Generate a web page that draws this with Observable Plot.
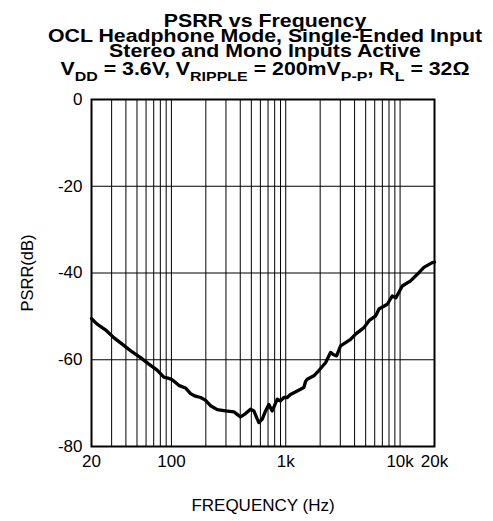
<!DOCTYPE html>
<html>
<head>
<meta charset="utf-8">
<script src="https://cdn.jsdelivr.net/npm/d3@7"></script>
<script src="https://cdn.jsdelivr.net/npm/@observablehq/plot@0.6"></script>
<style>
  html, body { margin: 0; padding: 0; background: #fff; }
  #chart svg { display: block; }
</style>
</head>
<body>
<div id="chart"></div>
<script>
// Data
const freq = [20, 22.4, 26.5, 31.3, 37.1, 45.4, 53.7, 63.5, 75, 85.8, 95, 101.6, 116, 132.8, 147, 162, 180, 198, 220, 252, 297, 352, 376, 402, 445, 492, 526, 560, 582, 623, 666, 711, 740, 762, 843, 900, 963, 1030, 1100, 1261, 1440, 1490, 1542, 1760, 1930, 2229, 2466, 2600, 2783, 3017, 3690, 4083, 4830, 5345, 6112, 6537, 7730, 8537, 9200, 10450, 12360, 14140, 16150, 19100, 20000];
const psrr = [-50.5, -51.8, -53.1, -54.9, -56.4, -58.2, -59.5, -61.0, -62.4, -64.0, -64.3, -64.6, -65.9, -66.5, -67.8, -68.4, -68.7, -69.3, -70.6, -71.5, -71.8, -72.0, -72.6, -73.2, -72.4, -71.4, -71.8, -73.5, -74.5, -73.7, -71.8, -70.3, -71.2, -71.8, -69.1, -69.5, -68.7, -68.7, -68.0, -67.2, -66.4, -65.0, -64.5, -63.7, -62.6, -60.7, -58.3, -58.8, -59.1, -56.8, -55.3, -54.1, -52.6, -51.0, -49.9, -48.3, -47.2, -45.3, -45.7, -43.0, -41.8, -40.3, -38.7, -37.6, -37.5];

const xTicks = [20, 100, 1000, 10000, 20000];
const xTickLabels = ["20", "100", "1k", "10k", "20k"];
const yTicks = [0, -20, -40, -60, -80];
const xGrid = [30, 40, 50, 60, 70, 80, 90, 100, 200, 300, 400, 500, 600, 700, 800, 900, 1000, 2000, 3000, 4000, 5000, 6000, 7000, 8000, 9000, 10000];
const yGrid = [-20, -40, -60];

const titleLines = ["PSRR vs Frequency", "OCL Headphone Mode, Single-Ended Input", "Stereo and Mono Inputs Active"];
const xLabel = "FREQUENCY (Hz)";
const yLabel = "PSRR(dB)";

const data = freq.map((f, i) => ({f, v: psrr[i]}));
const font = "'Liberation Sans', Arial, Helvetica, sans-serif";

const chart = Plot.plot({
  width: 493,
  height: 521,
  marginTop: 99,
  marginBottom: 75,
  marginLeft: 91,
  marginRight: 59,
  style: {fontFamily: font, fontSize: "17px", color: "#000", background: "#fff"},
  x: {type: "log", domain: [20, 20000]},
  y: {domain: [-80, 0]},
  marks: [
    Plot.ruleX(xGrid, {stroke: "#000", strokeWidth: 1}),
    Plot.ruleY(yGrid, {stroke: "#000", strokeWidth: 1}),
    Plot.frame({stroke: "#000", strokeWidth: 2}),
    Plot.axisX({ticks: xTicks, tickFormat: d => xTickLabels[xTicks.indexOf(d)], tickSize: 0, tickPadding: 8, label: null, fontSize: 17}),
    Plot.axisY({ticks: yTicks, tickFormat: d => String(d), tickSize: 0, tickPadding: 9, label: null, fontSize: 17}),
    Plot.line(data, {x: "f", y: "v", stroke: "#000", strokeWidth: 3.3, strokeLinejoin: "round", strokeLinecap: "round"}),
    Plot.text([xLabel], {frameAnchor: "bottom", dy: 59, text: d => d, fontSize: 17, lineAnchor: "middle", fill: "#000"}),
    Plot.text([yLabel], {frameAnchor: "left", dx: -64, rotate: -90, text: d => d, fontSize: 16.5, textAnchor: "middle", lineAnchor: "middle", fill: "#000"})
  ]
});

document.getElementById("chart").appendChild(chart);

// Title with subscripts
const svg = d3.select(chart);
const cx = 265, sx = 1.185, fs = 18;
const baselines = [27, 42, 57];
titleLines.forEach((t, i) => {
  svg.append("text")
    .attr("transform", `translate(${cx},${baselines[i]}) scale(${sx},1)`)
    .attr("text-anchor", "middle")
    .attr("font-family", font)
    .attr("font-weight", "bold")
    .attr("font-size", fs)
    .attr("fill", "#000")
    .text(t);
});
const parts = [
  ["V", false], ["DD", true], [" = 3.6V, V", false], ["RIPPLE", true], [" = 200mV", false], ["P-P", true], [", R", false], ["L", true], [" = 32\u03A9", false]
];
const t4 = svg.append("text")
  .attr("transform", `translate(${cx},75) scale(${sx},1)`)
  .attr("text-anchor", "middle")
  .attr("font-family", font)
  .attr("font-weight", "bold")
  .attr("font-size", fs)
  .attr("fill", "#000");
let prevSub = false;
parts.forEach(([s, sub]) => {
  const ts = t4.append("tspan").text(s);
  if (sub) { ts.attr("font-size", 13.5).attr("dy", prevSub ? 0 : 6); }
  else if (prevSub) { ts.attr("dy", -6); }
  prevSub = sub;
});
</script>
</body>
</html>
